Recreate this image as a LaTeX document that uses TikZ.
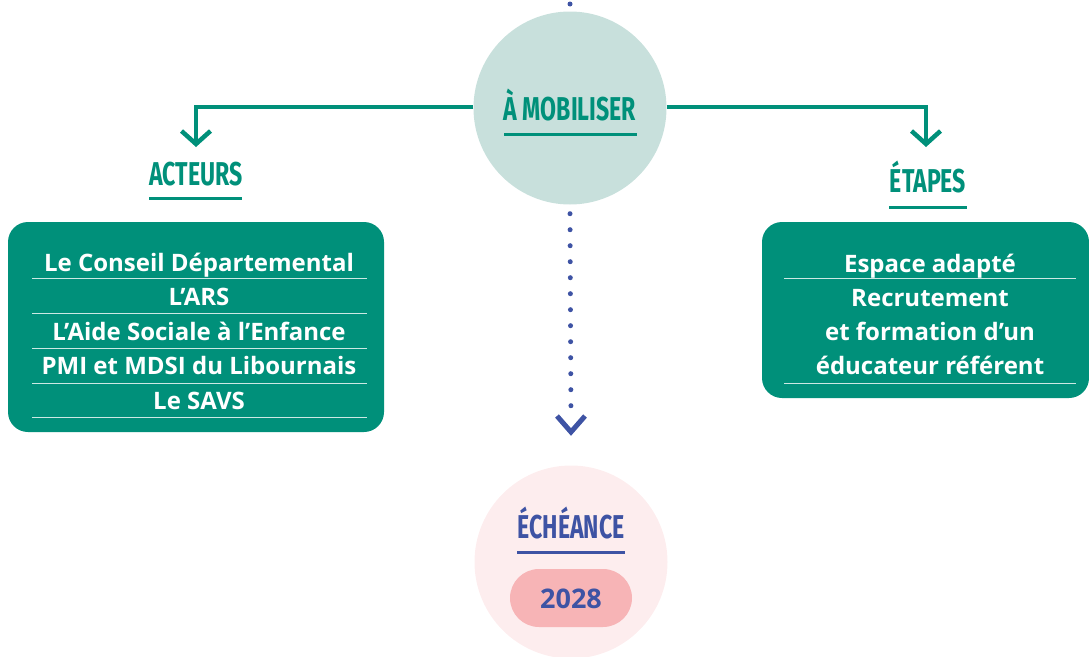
\documentclass[tikz,border=0pt]{standalone}
\usepackage{fontspec}
\setmainfont{Open Sans}
\newfontfamily\titlefont[FakeStretch=0.70]{Fira Sans}
\usetikzlibrary{arrows.meta,calc}
\definecolor{vert}{HTML}{00907A}
\definecolor{vertclair}{HTML}{C8E0DC}
\definecolor{bleu}{HTML}{3E53A4}
\definecolor{rosepale}{HTML}{FDEDEE}
\definecolor{rose}{HTML}{F7B4B6}
\tikzset{
  titre/.style={font=\titlefont\bfseries\fontsize{33}{38}\selectfont, anchor=base, inner sep=0pt},
  corps/.style={font=\bfseries\fontsize{24}{28}\selectfont, text=white, anchor=base, inner sep=0pt},
  souligne/.style={line width=3pt},
  greenline/.style={draw=vert, line width=4.5pt, -{Straight Barb[length=13pt,width=29pt]}},
  dotline/.style={draw=bleu, line width=5pt, line cap=round, dash pattern=on 0pt off 16pt},
  chevron/.style={draw=bleu, line width=5pt},
  boite/.style={fill=vert, rounded corners=20pt, inner sep=0pt},
  divider/.style={draw=white!80!vert, line width=1pt},
}
\begin{document}
\begin{tikzpicture}[x=1pt,y=-1pt]
\useasboundingbox (0,0) rectangle (1089,656);
% boxes
\node[boite, minimum width=376pt, minimum height=210pt] (acteursbox) at (196,327) {};
\node[boite, minimum width=327pt, minimum height=176pt] (etapesbox) at (925.5,310) {};
% top dot
\coordinate (topdot) at (570,4);
\node[circle, fill=vertclair, minimum size=193pt, inner sep=0pt] (mob) at (570,108) {};
\draw[dotline] (topdot) -- (mob.north);
% bottom circle
\node[circle, fill=rosepale, minimum size=193pt, inner sep=0pt] (ech) at (571,562) {};
% titles
\node[titre, text=vert] (mobt) at (570,120) {À MOBILISER};
\draw[souligne, vert] (504,134) -- (637,134);
\node[titre, text=vert] (actt) at (196,185) {ACTEURS};
\draw[souligne, vert] (149,198) -- (242,198);
\node[titre, text=vert] (etat) at (928,192) {ÉTAPES};
\draw[souligne, vert] (889,207) -- (967,207);
\node[titre, text=bleu] (echt) at (571,538) {ÉCHÉANCE};
\draw[souligne, bleu] (517,552) -- (625,552);
\node[fill=rose, rounded corners=29pt, minimum width=122pt, minimum height=58pt, inner sep=0pt] (pill) at (571,598) {};
\node[corps, text=bleu, font=\bfseries\fontsize{27}{30}\selectfont] (annee) at (571,608) {2028};
% connectors
\coordinate (acttip) at (196,147);
\coordinate (etatip) at (926,147);
\draw[greenline] (mob.west |- 0,107) -| (acttip);
\draw[greenline] (mob.east |- 0,107) -| (etatip);
\coordinate (chev) at (571,432);
\draw[dotline] ([yshift=-9pt]mob.south) -- ([yshift=11pt]chev);
\draw[chevron] ($(chev)+(-14,-16)$) -- (chev) -- ($(chev)+(14,-16)$);
% left box content
\node[corps] (a1) at (199,271) {Le Conseil Départemental};
\node[corps] (a2) at (199,305.5) {L’ARS};
\node[corps] (a3) at (199,340) {L’Aide Sociale à l’Enfance};
\node[corps] (a4) at (199,374.5) {PMI et MDSI du Libournais};
\node[corps] (a5) at (199,409) {Le SAVS};
\foreach \y in {278,313,348,383,417} \draw[divider] (32,\y) -- (367,\y);
% right box content
\node[corps] (e1) at (930,272) {Espace adapté};
\node[corps] (e2) at (930,306) {Recrutement};
\node[corps] (e3) at (930,340) {et formation d’un};
\node[corps] (e4) at (930,374) {éducateur référent};
\foreach \y in {278,383} \draw[divider] (784,\y) -- (1076,\y);
\end{tikzpicture}
\end{document}
